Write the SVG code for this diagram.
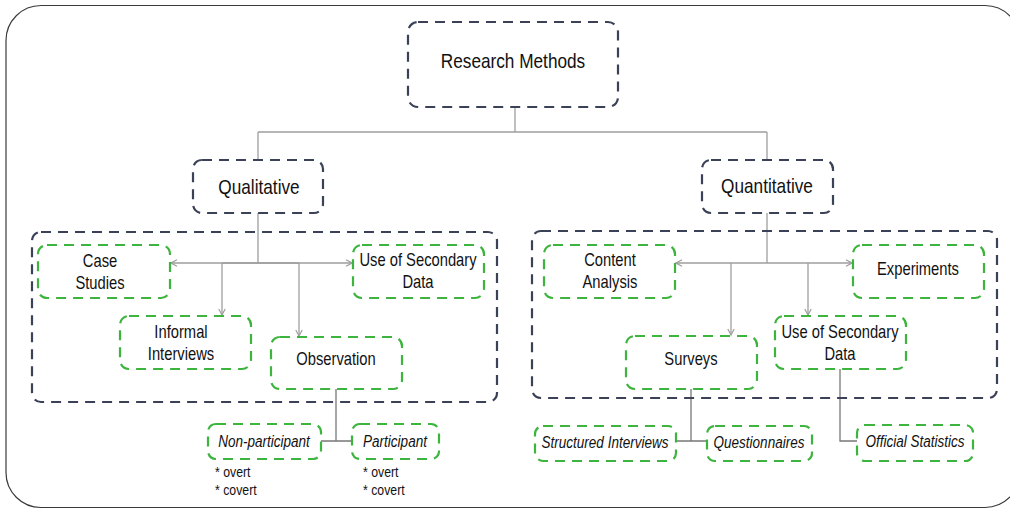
<svg xmlns="http://www.w3.org/2000/svg" width="1010" height="510" viewBox="0 0 1010 510">
<style>
.frame{fill:#fff;stroke:#3a3a3a;stroke-width:1.2}
.nb{fill:#fff;stroke:#3b4257;stroke-width:2.2;stroke-dasharray:10 7}
.cb{fill:none;stroke:#3b4257;stroke-width:2.2;stroke-dasharray:10 7}
.gb{fill:#fff;stroke:#3db43d;stroke-width:2.2;stroke-dasharray:10 7}
.ln{fill:none;stroke:#9e9e9e;stroke-width:1.3}
.tl{fill:none;stroke:#777;stroke-width:1.3}
text{font-family:"Liberation Sans",Arial,sans-serif;fill:#111;text-anchor:middle}
.t1{font-size:21px}
.t2{font-size:18px}
.ti{font-size:16.5px;font-style:italic}
.ts{font-size:15px;text-anchor:start}
</style>
<defs>
<marker id="ar" viewBox="0 0 8 8" refX="7" refY="4" markerWidth="8" markerHeight="8" markerUnits="userSpaceOnUse" orient="auto">
<path d="M1,0.8 L7,4 L1,7.2" fill="none" stroke="#9e9e9e" stroke-width="1.2"/>
</marker>
</defs>
<rect class="frame" x="6" y="5.5" width="1014" height="502" rx="35"/>
<g id="connectors">
<path class="ln" d="M515,107 V132 M258,132 H767 M258,132 V160 M767,132 V160"/>
<path class="ln" d="M258,213 V263 M222,263 H299"/>
<path class="ln" d="M258,263 H171" marker-end="url(#ar)"/>
<path class="ln" d="M258,263 H352" marker-end="url(#ar)"/>
<path class="ln" d="M222,263 V315" marker-end="url(#ar)"/>
<path class="ln" d="M299,263 V336" marker-end="url(#ar)"/>
<path class="tl" d="M336,389 V441 M320,441 H352"/>
<path class="ln" d="M767,213 V263"/>
<path class="ln" d="M767,263 H676" marker-end="url(#ar)"/>
<path class="ln" d="M767,263 H852" marker-end="url(#ar)"/>
<path class="ln" d="M731,263 V335" marker-end="url(#ar)"/>
<path class="ln" d="M808,263 V315" marker-end="url(#ar)"/>
<path class="tl" d="M691,389 V441 M676,441 H707"/>
<path class="tl" d="M840,369 V441 H857"/>
</g>
<g id="qualitative-group"><rect class="cb" x="32" y="232" width="465" height="170" rx="9"/></g>
<g id="quantitative-group"><rect class="cb" x="532" y="231" width="465" height="167" rx="9"/></g>
<g id="research-methods"><rect class="nb" x="408" y="22" width="210" height="85" rx="10"/><text class="t1" x="513" y="68" transform="matrix(0.82 0 0 1 92.34 0)">Research Methods</text></g>
<g id="qualitative"><rect class="nb" x="193" y="160" width="130" height="53" rx="9"/><text class="t1" x="259" y="194" transform="matrix(0.82 0 0 1 46.62 0)">Qualitative</text></g>
<g id="quantitative"><rect class="nb" x="702" y="160" width="131" height="53" rx="9"/><text class="t1" x="767" y="193" transform="matrix(0.82 0 0 1 138.06 0)">Quantitative</text></g>
<g id="case-studies"><rect class="gb" x="38" y="245" width="132" height="53" rx="9"/><g transform="matrix(0.82 0 0 1 18 0)"><text class="t2" x="100" y="267">Case</text><text class="t2" x="100" y="289">Studies</text></g></g>
<g id="use-of-secondary-data-qual"><rect class="gb" x="353" y="245" width="131" height="53" rx="9"/><g transform="matrix(0.82 0 0 1 75.24 0)"><text class="t2" x="418" y="266">Use of Secondary</text><text class="t2" x="418" y="288">Data</text></g></g>
<g id="informal-interviews"><rect class="gb" x="120" y="316" width="131" height="53" rx="9"/><g transform="matrix(0.82 0 0 1 32.58 0)"><text class="t2" x="181" y="338">Informal</text><text class="t2" x="181" y="360">Interviews</text></g></g>
<g id="observation"><rect class="gb" x="271" y="337" width="131" height="52" rx="9"/><text class="t2" x="336" y="365" transform="matrix(0.82 0 0 1 60.48 0)">Observation</text></g>
<g id="non-participant"><rect class="gb" x="208" y="424" width="113" height="35" rx="8"/><text class="ti" x="264" y="447" transform="matrix(0.82 0 0 1 47.52 0)">Non-participant</text></g>
<g id="participant"><rect class="gb" x="352" y="424" width="87" height="35" rx="8"/><text class="ti" x="395" y="447" transform="matrix(0.82 0 0 1 71.1 0)">Participant</text></g>
<g id="non-participant-notes" transform="matrix(0.82 0 0 1 38.7 0)"><text class="ts" x="215" y="477">* overt</text><text class="ts" x="215" y="495">* covert</text></g>
<g id="participant-notes" transform="matrix(0.82 0 0 1 65.34 0)"><text class="ts" x="363" y="477">* overt</text><text class="ts" x="363" y="495">* covert</text></g>
<g id="content-analysis"><rect class="gb" x="544" y="245" width="131" height="53" rx="9"/><g transform="matrix(0.82 0 0 1 109.8 0)"><text class="t2" x="610" y="266">Content</text><text class="t2" x="610" y="288">Analysis</text></g></g>
<g id="experiments"><rect class="gb" x="853" y="245" width="131" height="53" rx="9"/><text class="t2" x="918" y="275" transform="matrix(0.82 0 0 1 165.24 0)">Experiments</text></g>
<g id="surveys"><rect class="gb" x="626" y="336" width="131" height="53" rx="9"/><text class="t2" x="691" y="365" transform="matrix(0.82 0 0 1 124.38 0)">Surveys</text></g>
<g id="use-of-secondary-data-quant"><rect class="gb" x="775" y="316" width="131" height="53" rx="9"/><g transform="matrix(0.82 0 0 1 151.2 0)"><text class="t2" x="840" y="338">Use of Secondary</text><text class="t2" x="840" y="360">Data</text></g></g>
<g id="structured-interviews"><rect class="gb" x="535" y="426" width="141" height="35" rx="8"/><text class="ti" x="605" y="448" transform="matrix(0.82 0 0 1 108.9 0)">Structured Interviews</text></g>
<g id="questionnaires"><rect class="gb" x="707" y="426" width="105" height="35" rx="8"/><text class="ti" x="759" y="448" transform="matrix(0.82 0 0 1 136.62 0)">Questionnaires</text></g>
<g id="official-statistics"><rect class="gb" x="857" y="425" width="116" height="36" rx="8"/><text class="ti" x="915" y="447" transform="matrix(0.82 0 0 1 164.7 0)">Official Statistics</text></g>
</svg>
